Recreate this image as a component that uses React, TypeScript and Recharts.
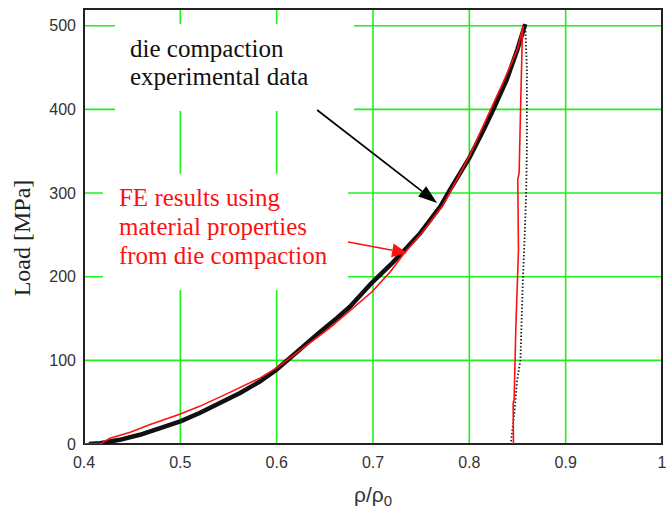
import { CartesianGrid, Line, LineChart, ReferenceArea, ReferenceLine, XAxis, YAxis } from "recharts";

const X_TICKS = [0.4, 0.5, 0.6, 0.7, 0.8, 0.9, 1];
const Y_TICKS = [0, 100, 200, 300, 400, 500];

// die compaction experimental data (loading branch)
const EXP_LOAD_X = [0.405, 0.417, 0.437, 0.458, 0.479, 0.5, 0.52, 0.541, 0.562, 0.583, 0.6, 0.624, 0.645, 0.663, 0.676, 0.699, 0.718, 0.733, 0.749, 0.77, 0.78, 0.8, 0.815, 0.825, 0.839, 0.85, 0.858];
const EXP_LOAD_Y = [0, 1, 5, 11, 19, 27, 37, 49, 61, 75, 89, 113, 134, 151, 164, 193, 214, 232, 252, 284, 304, 342, 376, 400, 436, 472, 502];

// experimental unloading branch (dotted)
const EXP_UNLOAD_X = [0.858, 0.8597, 0.8597, 0.859, 0.8575, 0.8555, 0.853, 0.8495, 0.847, 0.843];
const EXP_UNLOAD_Y = [502, 450, 350, 300, 250, 193, 100, 75, 40, 0];

// FE results, loading then unloading
const FE_X = [0.4, 0.417, 0.427, 0.448, 0.468, 0.5, 0.52, 0.552, 0.583, 0.6, 0.6555, 0.699, 0.718, 0.733, 0.749, 0.773, 0.8, 0.819, 0.835, 0.85, 0.856, 0.8551, 0.8534, 0.8517, 0.8503, 0.851, 0.8483, 0.8465, 0.8455, 0.8458];
const FE_Y = [0, 0, 7, 14, 23, 36, 45, 62, 79, 91, 139, 182, 206, 229, 250, 286, 344, 392, 432, 472, 500, 492, 412, 324, 316, 232, 140, 53, 49, 0];

const toPts = (xs: number[], ys: number[]) => xs.map((x, i) => ({ x, y: ys[i] }));

const expLoad = toPts(EXP_LOAD_X, EXP_LOAD_Y);
const expUnload = toPts(EXP_UNLOAD_X, EXP_UNLOAD_Y);
const fe = toPts(FE_X, FE_Y);

const SERIF = "'Liberation Serif', 'Times New Roman', serif";
const SANS = "'Liberation Sans', Arial, sans-serif";

function arrow(p: any, color: string, len: number, half: number) {
  const { x1, y1, x2, y2 } = p;
  if (x1 == null) return <g />;
  const dx = x2 - x1;
  const dy = y2 - y1;
  const d = Math.sqrt(dx * dx + dy * dy);
  const ux = dx / d;
  const uy = dy / d;
  const bx = x2 - ux * len;
  const by = y2 - uy * len;
  const pts = `${x2},${y2} ${bx - uy * half},${by + ux * half} ${bx + uy * half},${by - ux * half}`;
  return (
    <g>
      <line x1={x1} y1={y1} x2={bx} y2={by} stroke={color} strokeWidth={1.7} />
      <polygon points={pts} fill={color} />
    </g>
  );
}

function boxText(p: any, lines: string[], color: string, dx: number, dy: number, step: number) {
  const vb = p?.viewBox;
  if (!vb) return null;
  return (
    <text x={vb.x + dx} y={vb.y + dy} fill={color} fontSize={25} fontFamily={SERIF}>
      {lines.map((l, i) => (
        <tspan key={i} x={vb.x + dx} dy={i === 0 ? 0 : step}>
          {l}
        </tspan>
      ))}
    </text>
  );
}

export default function App() {
  return (
    <div style={{ position: "absolute", left: 0, top: 0, width: 667, height: 509, background: "#fff" }}>
      <LineChart width={667} height={509} margin={{ top: 9, right: 5, bottom: 0, left: 0 }}>
        <CartesianGrid stroke="#1ef01e" strokeWidth={1.6} />
        <XAxis
          dataKey="x"
          type="number"
          domain={[0.4, 1]}
          ticks={X_TICKS}
          allowDataOverflow
          height={65}
          axisLine={false}
          tickLine={false}
          tickMargin={7}
          tick={{ fontSize: 16, fill: "#333", fontFamily: SANS }}
          label={(p: any) => {
            const vb = p?.viewBox;
            if (!vb) return null;
            return (
              <text x={vb.x + vb.width / 2} y={vb.y + 58} textAnchor="middle" fontSize={21} fontFamily={SANS} fill="#333">
                <tspan>ρ/ρ</tspan>
                <tspan dy={4} fontSize={15}>0</tspan>
              </text>
            );
          }}
        />
        <YAxis
          type="number"
          domain={[0, 520]}
          ticks={Y_TICKS}
          allowDataOverflow
          width={84}
          axisLine={false}
          tickLine={false}
          tick={{ fontSize: 16, fill: "#333", fontFamily: SANS }}
          label={(p: any) => {
            const vb = p?.viewBox;
            if (!vb) return null;
            const cx = vb.x + 22;
            const cy = vb.y + 229;
            return (
              <text x={cx} y={cy} transform={`rotate(-90 ${cx} ${cy})`} textAnchor="middle" dominantBaseline="central" fontSize={24} fontFamily={SERIF} fill="#222">
                Load [MPa]
              </text>
            );
          }}
        />
        <ReferenceArea
          x1={0.4322}
          x2={0.6804}
          y1={398}
          y2={502}
          fill="#fff"
          fillOpacity={1}
          stroke="none"
          label={(p: any) => boxText(p, ["die compaction", "experimental data"], "#111", 15, 33, 28)}
        />
        <ReferenceArea
          x1={0.4197}
          x2={0.6741}
          y1={184}
          y2={323}
          fill="#fff"
          fillOpacity={1}
          stroke="none"
          label={(p: any) => boxText(p, ["FE results using", "material properties", "from die compaction"], "#ff1010", 16, 32.5, 29)}
        />
        <ReferenceArea x1={0.4} x2={1} y1={0} y2={520} fill="none" stroke="#222" strokeWidth={2} />
        <Line data={expLoad} dataKey="y" stroke="#111" strokeWidth={4.5} strokeLinejoin="round" dot={false} isAnimationActive={false} />
        <Line data={expUnload} dataKey="y" stroke="#222" strokeWidth={1.8} strokeDasharray="1.5 2" dot={false} isAnimationActive={false} />
        <Line data={fe} dataKey="y" stroke="#ff1010" strokeWidth={1.6} dot={false} isAnimationActive={false} />
        <ReferenceLine
          segment={[{ x: 0.642, y: 399.3 }, { x: 0.7666, y: 288.1 }]}
          stroke="#000"
          shape={(p: any) => arrow(p, "#000", 19, 6.5)}
        />
        <ReferenceLine
          segment={[{ x: 0.6741, y: 241.5 }, { x: 0.7354, y: 228.3 }]}
          stroke="#ff1010"
          shape={(p: any) => arrow(p, "#ff1010", 15, 7)}
        />
      </LineChart>
    </div>
  );
}
